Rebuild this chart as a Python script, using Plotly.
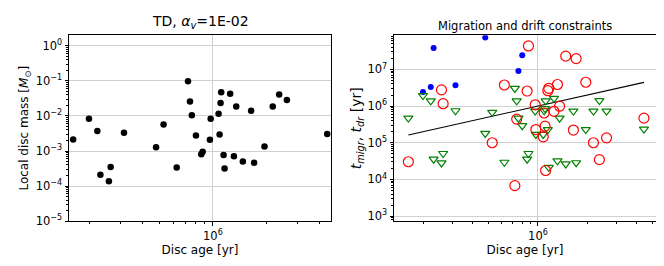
import plotly.graph_objects as go
import numpy as np

# ---- data ----
disc_age = [1.62e5, 1.99e5, 2.22e5, 2.31e5, 2.58e5, 2.64e5, 3.14e5, 4.77e5, 5.26e5, 6.24e5,
            7.23e5, 7.42e5, 7.60e5, 8.02e5, 8.59e5, 8.75e5, 9.62e5, 9.71e5, 1.077e6, 1.091e6,
            1.105e6, 1.114e6, 1.149e6, 1.164e6, 1.252e6, 1.315e6, 1.355e6, 1.477e6, 1.645e6, 1.71e6,
            1.958e6, 2.18e6, 2.37e6, 2.62e6, 4.43e6]

disc_mass = [2.13e-3, 8.3e-3, 3.71e-3, 2.12e-4, 1.38e-4, 3.52e-4, 3.33e-3, 1.28e-3, 5.68e-3, 3.37e-4,
             9.7e-2, 2.55e-2, 1.05e-2, 2.75e-3, 8.05e-4, 9.57e-4, 2.09e-3, 8.3e-3, 1.143e-2, 2.93e-3,
             2.34e-2, 4.72e-2, 7.7e-4, 3.16e-4, 4.24e-2, 7.1e-4, 1.85e-2, 5.06e-4, 1.41e-2, 4.63e-4,
             1.34e-3, 1.85e-2, 4.08e-2, 2.84e-2, 3.06e-3]

# migration timescale (open red circles); None where only the blue estimate exists
t_migr = [3.03e4, None, None, None, 2.76e6, 1.16e6, None, None, 1.0e5, 3.75e6,
          6.76e3, 4.41e5, None, None, 2.57e6, 4.35e7, 1.08e6, 2.29e5, 1.45e5, 6.47e5,
          2.83e5, 1.75e4, 2.62e6, 3.05e6, 7.18e5, 3.87e6, 9.93e5, 2.30e7, 2.22e5, 1.96e7,
          4.46e6, 1.0e5, 3.47e4, 1.36e5, 4.68e5]

# filled blue points
t_migr_blue = [None, 2.42e6, 3.32e6, 3.80e7, None, None, 3.71e6, 7.36e7, None, None,
               None, None, 9.0e6, 2.44e7, None, None, None, None, None, None,
               None, None, None, None, None, None, None, None, None, None,
               None, None, None, None, None]

# drift timescale (open green triangles)
t_dr = [4.71e5, 1.93e6, 1.39e6, 3.57e4, 2.81e4, 5.09e4, 7.45e5, 1.79e5, 6.76e5, 2.94e4,
        3.03e6, 1.39e6, 4.68e5, 2.92e5, 3.57e4, 5.09e4, 7.31e5, 1.68e5, 1.68e5, 7.45e5,
        8.53e5, 1.39e6, 2.29e5, 2.14e4, 1.62e6, 3.22e4, 4.68e5, 2.65e4, 7.31e5, 2.85e4,
        2.29e5, 7.31e5, 1.41e6, 7.31e5, 2.36e5]

line_x = [min(disc_age), max(disc_age)]

FONT = "DejaVu Sans"

fig = go.Figure()

fig.add_trace(go.Scatter(x=disc_age, y=disc_mass, mode="markers",
                         marker=dict(color="black", size=6.5), xaxis="x", yaxis="y",
                         showlegend=False))

fig.add_trace(go.Scatter(x=line_x, y=line_x, mode="lines",
                         line=dict(color="black", width=1.1), xaxis="x2", yaxis="y2",
                         showlegend=False))
fig.add_trace(go.Scatter(x=disc_age, y=t_migr_blue, mode="markers",
                         marker=dict(color="blue", size=6), xaxis="x2", yaxis="y2",
                         showlegend=False))
fig.add_trace(go.Scatter(x=disc_age, y=t_dr, mode="markers",
                         marker=dict(symbol="triangle-down-open", color="green", size=8,
                                     line=dict(width=1.2)),
                         xaxis="x2", yaxis="y2", showlegend=False))
fig.add_trace(go.Scatter(x=disc_age, y=t_migr, mode="markers",
                         marker=dict(symbol="circle-open", color="red", size=10,
                                     line=dict(width=1.2)),
                         xaxis="x2", yaxis="y2", showlegend=False))


def minor_vals(lo, hi):
    vals = []
    for d in range(lo, hi + 1):
        for m in range(2, 10):
            vals.append(m * 10.0 ** d)
    return vals


def sup(e):
    s = str(e).replace("-", "\u2212")
    return "10<sup>%s</sup>" % s


axis_common = dict(type="log", showline=True, linecolor="black", linewidth=1, mirror=True,
                   ticks="outside", ticklen=3.5, tickwidth=1, tickcolor="black",
                   showgrid=True, gridcolor="#d0d0d0", gridwidth=1, zeroline=False,
                   tickfont=dict(family=FONT, size=11.5, color="black"))

fig.update_layout(
    width=664, height=266,
    margin=dict(l=0, r=0, t=0, b=0),
    paper_bgcolor="white", plot_bgcolor="white",
    font=dict(family=FONT, color="black"),
    xaxis=dict(axis_common, domain=[61 / 664, 323 / 664], range=[5.186, 6.668],
               tickmode="array", tickvals=[1e6], ticktext=[sup(6)],
               minor=dict(tickmode="array", tickvals=minor_vals(5, 6), ticks="outside",
                          ticklen=2, tickcolor="black", showgrid=False),
               title=dict(text="Disc age [yr]", font=dict(family=FONT, size=12), standoff=3),
               anchor="y"),
    yaxis=dict(axis_common, domain=[1 - 219 / 266, 1 - 28 / 266], range=[-5, 0.296],
               tickmode="array", tickvals=[10.0 ** e for e in range(-5, 1)],
               ticktext=[sup(e) for e in range(-5, 1)],
               minor=dict(tickmode="array", tickvals=minor_vals(-6, 0), ticks="outside",
                          ticklen=2, tickcolor="black", showgrid=False),
               title=dict(text="Local disc mass [<i>M</i><sub>\u2299</sub>]",
                          font=dict(family=FONT, size=12), standoff=4),
               anchor="x"),
    xaxis2=dict(axis_common, domain=[386 / 664, 648 / 664], range=[5.122, 6.72],
                tickmode="array", tickvals=[1e6], ticktext=[sup(6)],
                minor=dict(tickmode="array", tickvals=minor_vals(5, 6), ticks="outside",
                           ticklen=2, tickcolor="black", showgrid=False),
                title=dict(text="Disc age [yr]", font=dict(family=FONT, size=12), standoff=3),
                anchor="y2"),
    yaxis2=dict(axis_common, domain=[1 - 219 / 266, 1 - 28 / 266], range=[2.86, 7.93],
                tickmode="array", tickvals=[10.0 ** e for e in range(3, 8)],
                ticktext=[sup(e) for e in range(3, 8)],
                minor=dict(tickmode="array", tickvals=minor_vals(2, 7), ticks="outside",
                           ticklen=2, tickcolor="black", showgrid=False),
                title=dict(text="<i>t</i><sub><i>migr</i></sub>, <i>t</i><sub><i>dr</i></sub> [yr]",
                           font=dict(family=FONT, size=14), standoff=2),
                anchor="x2"),
    annotations=[
        dict(text="TD, <i>\u03b1</i><sub><i>v</i></sub>=1E-02", x=192 / 664, y=1 - 14 / 266,
             xref="paper", yref="paper", showarrow=False, xanchor="center", yanchor="middle",
             font=dict(family=FONT, size=14, color="black")),
        dict(text="Migration and drift constraints", x=517 / 664, y=1 - 18 / 266,
             xref="paper", yref="paper", showarrow=False, xanchor="center", yanchor="middle",
             font=dict(family=FONT, size=11.5, color="black")),
    ],
)

fig.write_html("out.html")
